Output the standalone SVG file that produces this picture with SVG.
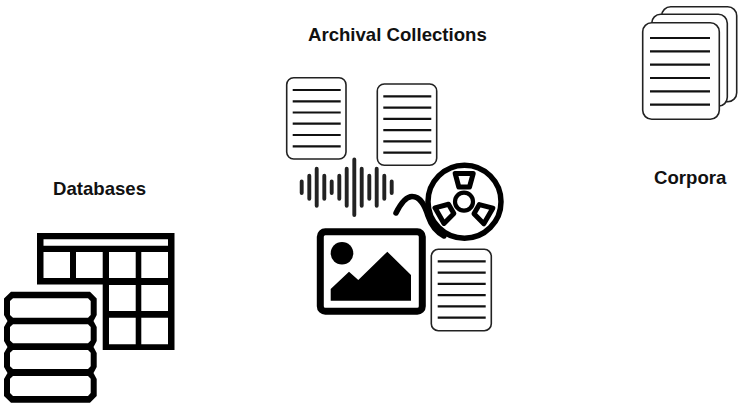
<svg xmlns="http://www.w3.org/2000/svg" xmlns:xlink="http://www.w3.org/1999/xlink" width="744" height="407" viewBox="0 0 744 407">
<style>
text{font-family:"Liberation Sans",Arial,sans-serif;font-weight:700;font-size:18.6px;fill:#111}
.page{fill:#fff;stroke:#222;stroke-width:1.6}
.ln{stroke:#111;stroke-width:2.2;fill:none}
.bar{stroke:#222;stroke-width:3.9;stroke-linecap:round;fill:none}
.cell{fill:#fff}
</style>
<defs>
<g id="lines"><path class="ln" d="M0,0H48M0,11.3H48M0,22.5H48M0,33.7H48M0,45H48M0,56.3H48"/></g>
<path id="pad" d="M455.2,173.500H473.200L469.500,187H458.800Z" fill="#fff" stroke="#000" stroke-width="5" stroke-linejoin="round"/>
</defs>
<rect width="744" height="407" fill="#fff"/>
<g id="label-archival"><text x="308" y="41">Archival Collections</text></g>
<g id="label-databases"><text x="53" y="195">Databases</text></g>
<g id="label-corpora"><text x="654" y="184">Corpora</text></g>
<g id="databases">
<path d="M37,233H174.5V350H102.7V284.500H37Z" fill="#000"/>
<path class="cell" d="M43.500,239.200H168V245.700H43.500ZM43.500,252H70V278H43.500ZM76,252H102.700V278H76ZM109,252H135.700V278H109ZM141.300,252H168V278H141.300ZM109,285H135.700V311H109ZM141.300,285H168V311H141.300ZM109,317.700H135.700V344.300H109ZM141.300,317.700H168V344.300H141.300Z"/>
<path d="M11,291.700H90L96.700,298.500V315L93.500,321L96.700,327V341L93.500,347L96.700,353V367L93.500,373L96.700,379V396L90,402.700H11L4,396V379L7.500,373L4,367V353L7.500,347L4,341V327L7.500,321L4,315V298.500Z" fill="#000"/>
<g class="cell">
<path d="M13,298.300H88L90.700,301V315L88,317.700H13L10,315V301Z"/>
<path d="M13,324.300H88L90.700,327V340.500L88,343.300H13L10,340.500V327Z"/>
<path d="M13,350H88L90.700,352.700V366.300L88,369H13L10,366.300V352.700Z"/>
<path d="M13,376H88L90.700,378.700V393L88,396H13L10,393V378.700Z"/>
</g>
</g>
<g id="doc-1"><rect class="page" x="286.700" y="77.700" width="59.300" height="81.300" rx="7"/><use xlink:href="#lines" href="#lines" x="292.700" y="90"/></g>
<g id="doc-2"><rect class="page" x="377.300" y="84" width="59.400" height="81.300" rx="7"/><use xlink:href="#lines" href="#lines" x="383.300" y="96.400"/></g>
<g id="doc-3"><rect class="page" x="431.300" y="249.300" width="60" height="81.400" rx="7"/><use xlink:href="#lines" href="#lines" x="437.700" y="261.400"/></g>
<g id="waveform">
<path class="bar" d="M301.700,181.500V193.100M309.300,175.800V198.800M316.700,168.800V205.800M324.300,175.800V198.800M331.700,181.500V193.100M339.300,175.800V198.800M346.700,168.800V205.800M354.300,159.500V215.100M361.700,168.800V205.800M369.300,175.800V198.800M376.700,168.800V205.800M384.300,175.800V198.800M391.700,181.500V193.100"/>
</g>
<g id="reel">
<path d="M396,213C401,203 406,196.500 412,196.500C421,196.500 425,206 428,216C431,225 436,232 444,236" fill="none" stroke="#000" stroke-width="5.500" stroke-linecap="round"/>
<circle cx="464.500" cy="201.700" r="36.500" fill="#fff" stroke="#000" stroke-width="5.500"/>
<circle cx="464" cy="201.700" r="9" fill="#fff" stroke="#000" stroke-width="4.200"/>
<use xlink:href="#pad" href="#pad"/>
<use xlink:href="#pad" href="#pad" transform="rotate(120 464 201.700)"/>
<use xlink:href="#pad" href="#pad" transform="rotate(240 464 201.700)"/>
</g>
<g id="image">
<rect x="320.300" y="231.700" width="102" height="79.500" rx="5" fill="#fff" stroke="#000" stroke-width="7"/>
<circle cx="342" cy="253.300" r="11.300" fill="#000"/>
<path d="M330.700,300.700V289L349,271.700L358.300,280L387.300,251.700L411,275V300.700Z" fill="#000"/>
</g>
<g id="corpora">
<rect class="page" x="661.700" y="6.700" width="75" height="95" rx="9"/>
<rect class="page" x="651.700" y="14.300" width="75.600" height="92" rx="9"/>
<rect class="page" x="642.700" y="22.700" width="76.600" height="96.600" rx="9"/>
<path class="ln" d="M650,38H710M650,51.300H710M650,64.700H710M650,78H710M650,91.300H710M650,104.700H710"/>
</g>
</svg>
